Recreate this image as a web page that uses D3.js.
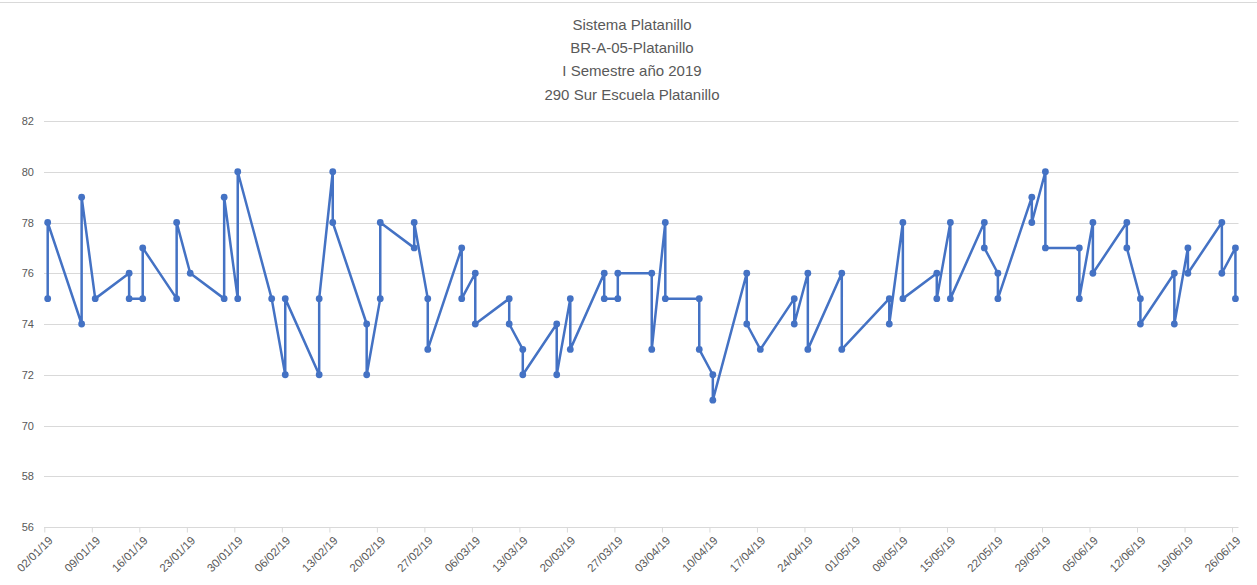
<!DOCTYPE html>
<html><head><meta charset="utf-8">
<script src="https://cdn.jsdelivr.net/npm/d3@7"></script>
<style>body{margin:0;background:#fff;} text{font-family:"Liberation Sans",Arial,sans-serif;}</style>
</head><body><svg id="c" width="1257" height="585"></svg>
<script>
const titleLines = ["Sistema Platanillo","BR-A-05-Platanillo","I Semestre año 2019","290 Sur Escuela Platanillo"];
const dates = ["02/01/19","07/01/19","09/01/19","14/01/19","16/01/19","21/01/19","23/01/19","28/01/19","30/01/19",
 "04/02/19","06/02/19","11/02/19","13/02/19","18/02/19","20/02/19","25/02/19","27/02/19",
 "04/03/19","06/03/19","11/03/19","13/03/19","18/03/19","20/03/19","25/03/19","27/03/19",
 "01/04/19","03/04/19","08/04/19","10/04/19","15/04/19","17/04/19","22/04/19","24/04/19","29/04/19",
 "06/05/19","08/05/19","13/05/19","15/05/19","20/05/19","22/05/19","27/05/19","29/05/19",
 "03/06/19","05/06/19","10/06/19","12/06/19","17/06/19","19/06/19","24/06/19","26/06/19"];
const values = [[75,78],[74,79],[75],[76,75],[75,77],[75,78],[76],[75,79],[75,80],
 [75],[72,75],[72,75],[80,78],[74,72],[75,78],[77,78],[75,73],
 [77,75],[76,74],[75,74],[73,72],[74,72],[75,73],[76,75],[75,76],
 [76,73],[78,75],[75,73],[72,71],[76,74],[73],[75,74],[76,73],[76,73],
 [75,74],[78,75],[76,75],[78,75],[78,77],[76,75],[79,78],[80,77],
 [77,75],[78,76],[78,77],[75,74],[76,74],[77,76],[78,76],[77,75]];
const yTickValues = [66,68,70,72,74,76,78,80,82];
const yTickLabels = ["56","58","70","72","74","76","78","80","82"];
const xTickLabels = ["02/01/19","09/01/19","16/01/19","23/01/19","30/01/19","06/02/19","13/02/19","20/02/19","27/02/19",
 "06/03/19","13/03/19","20/03/19","27/03/19","03/04/19","10/04/19","17/04/19","24/04/19","01/05/19","08/05/19",
 "15/05/19","22/05/19","29/05/19","05/06/19","12/06/19","19/06/19","26/06/19"];

const parse = d3.utcParse("%d/%m/%y");
const pts = [];
dates.forEach((d,i)=>values[i].forEach(v=>pts.push({date:parse(d),v})));

const svg = d3.select("#c");
const dayW = 6.787;
const x = d3.scaleUtc().domain([parse("02/01/19"), parse("26/06/19")]).range([47.7,47.7+175*dayW]);
const xTick = x.copy().range(x.range().map(r=>r-dayW/2));
const y = d3.scaleLinear().domain([66,82]).range([527,121]);
const gridL = 44, gridR = 1238.5;
const grey = "#595959";

svg.append("line").attr("x1",0).attr("x2",1257).attr("y1",2.5).attr("y2",2.5).attr("stroke","#d9d9d9").attr("stroke-width",1);

const tg = svg.append("g").attr("fill",grey).attr("font-size",15).attr("text-anchor","middle");
titleLines.forEach((t,i)=>tg.append("text").attr("x",632).attr("y",30+i*23.2).text(t));

// gridlines
svg.append("g").selectAll("line").data(yTickValues.slice(1)).join("line")
  .attr("x1",gridL).attr("x2",gridR).attr("y1",d=>Math.round(y(d))+0.5).attr("y2",d=>Math.round(y(d))+0.5)
  .attr("stroke","#d9d9d9").attr("stroke-width",1);

// y axis labels
const yAxis = d3.axisLeft(y).tickValues(yTickValues).tickSize(0).tickPadding(0)
  .tickFormat(d=>yTickLabels[yTickValues.indexOf(d)]);
const ya = svg.append("g").attr("transform","translate(34,0)").call(yAxis);
ya.select(".domain").remove();
ya.selectAll("text").attr("fill",grey).attr("font-size",11);

// x axis
const xAxis = d3.axisBottom(xTick).tickValues(xTickLabels.map(parse)).tickSize(5)
  .tickFormat((d,i)=>xTickLabels[i]);
const xa = svg.append("g").attr("transform",`translate(0,${Math.round(y(66))+0.5})`).call(xAxis);
xa.select(".domain").attr("d",`M${gridL},0H${gridR}`).attr("stroke","#d9d9d9");
xa.selectAll(".tick line").attr("stroke","#d9d9d9");
xa.selectAll("text").attr("fill",grey).attr("font-size",11.5)
  .attr("text-anchor","end").attr("dy",0).attr("transform","translate(3,8) rotate(-45)");

// line
const line = d3.line().x(d=>x(d.date)).y(d=>y(d.v));
svg.append("path").datum(pts).attr("d",line).attr("fill","none")
  .attr("stroke","#4472C4").attr("stroke-width",2.5).attr("stroke-linejoin","round");
svg.append("g").selectAll("circle").data(pts).join("circle")
  .attr("cx",d=>x(d.date)).attr("cy",d=>y(d.v)).attr("r",3.4).attr("fill","#4472C4");
</script></body></html>
